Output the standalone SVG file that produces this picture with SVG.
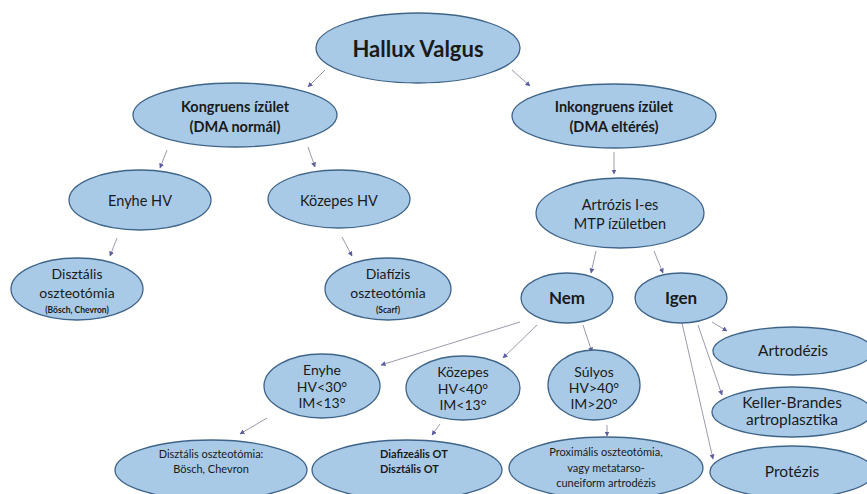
<svg xmlns="http://www.w3.org/2000/svg" width="867" height="494" viewBox="0 0 867 494">
<defs>
<marker id="ah" viewBox="0 0 10 10" refX="9" refY="5" markerWidth="5" markerHeight="5" orient="auto-start-reverse">
<path d="M0,0 L10,5 L0,10 z" fill="#5d5ea0"/>
</marker>
<style>
.n{fill:#a9cae6;stroke:#3f6489;stroke-width:1.3}
.t{font-family:Lato,"Open Sans","Liberation Sans",sans-serif;fill:#1a1a1a;text-anchor:middle}
.b{font-weight:bold}
.c line{stroke:#9a9aae;stroke-width:1;marker-end:url(#ah)}
</style>
</defs>
<rect width="867" height="494" fill="#ffffff"/>
<g class="c" id="connectors">
<line x1="325" y1="70" x2="308" y2="87"/>
<line x1="512" y1="70" x2="530" y2="86"/>
<line x1="167" y1="150" x2="160" y2="168"/>
<line x1="308" y1="147" x2="315" y2="167"/>
<line x1="614" y1="152" x2="614" y2="174"/>
<line x1="117" y1="238" x2="110" y2="256"/>
<line x1="342" y1="237" x2="352" y2="256"/>
<line x1="596" y1="251" x2="591" y2="273"/>
<line x1="654" y1="251" x2="663" y2="273"/>
<line x1="520" y1="322" x2="381" y2="365"/>
<line x1="537" y1="325" x2="503" y2="358"/>
<line x1="583" y1="325" x2="592" y2="352"/>
<line x1="712" y1="322" x2="727" y2="331"/>
<line x1="698" y1="325" x2="722" y2="395"/>
<line x1="682" y1="323" x2="713" y2="459"/>
<line x1="267" y1="418" x2="240" y2="434"/>
<line x1="440" y1="424" x2="432" y2="435"/>
<line x1="607" y1="425" x2="607" y2="436"/>
</g>
<g id="hallux"><ellipse class="n" cx="418" cy="48" rx="102" ry="35"/><text class="t b" x="418" y="57" font-size="22">Hallux Valgus</text></g>
<g id="kongruens"><ellipse class="n" cx="235" cy="115" rx="102" ry="32"/><text class="t b" x="235" y="112" font-size="14.5">Kongruens ízület</text><text class="t b" x="235" y="132" font-size="14.5">(DMA normál)</text></g>
<g id="inkongruens"><ellipse class="n" cx="614" cy="116" rx="102" ry="32"/><text class="t b" x="614" y="112" font-size="14.5">Inkongruens ízület</text><text class="t b" x="614" y="132" font-size="14.5">(DMA eltérés)</text></g>
<g id="enyhe-hv"><ellipse class="n" cx="140" cy="200" rx="71" ry="30"/><text class="t" x="140" y="206" font-size="14.5">Enyhe HV</text></g>
<g id="kozepes-hv"><ellipse class="n" cx="339" cy="199" rx="71" ry="29"/><text class="t" x="339" y="206" font-size="14.5">Közepes HV</text></g>
<g id="artrozis"><ellipse class="n" cx="620" cy="213" rx="84" ry="35"/><text class="t" x="620" y="210" font-size="14.5">Artrózis I-es</text><text class="t" x="620" y="229" font-size="14.5">MTP ízületben</text></g>
<g id="disztalis1"><ellipse class="n" cx="77" cy="289" rx="66" ry="31"/><text class="t" x="77" y="279" font-size="14">Disztális</text><text class="t" x="77" y="298" font-size="14">oszteotómia</text><text class="t b" x="77" y="313" font-size="8.5">(Bösch, Chevron)</text></g>
<g id="diafizis"><ellipse class="n" cx="388" cy="289" rx="63" ry="31"/><text class="t" x="388" y="279" font-size="14">Diafízis</text><text class="t" x="388" y="298" font-size="14">oszteotómia</text><text class="t b" x="388" y="313" font-size="8.5">(Scarf)</text></g>
<g id="nem"><ellipse class="n" cx="567" cy="298" rx="46" ry="25"/><text class="t b" x="567" y="304" font-size="17">Nem</text></g>
<g id="igen"><ellipse class="n" cx="681" cy="298" rx="46" ry="25"/><text class="t b" x="681" y="304" font-size="17">Igen</text></g>
<g id="artrodezis"><ellipse class="n" cx="793" cy="351" rx="80" ry="24"/><text class="t" x="793" y="356" font-size="15.5">Artrodézis</text></g>
<g id="keller"><ellipse class="n" cx="792" cy="412" rx="80" ry="25"/><text class="t" x="792" y="408" font-size="15.5">Keller-Brandes</text><text class="t" x="792" y="425" font-size="15.5">artroplasztika</text></g>
<g id="protezis"><ellipse class="n" cx="792" cy="472" rx="82" ry="26"/><text class="t" x="792" y="477" font-size="15.5">Protézis</text></g>
<g id="enyhe"><ellipse class="n" cx="322" cy="386" rx="58" ry="32"/><text class="t" x="322" y="375" font-size="14">Enyhe</text><text class="t" x="322" y="392" font-size="14">HV&lt;30°</text><text class="t" x="322" y="408" font-size="14">IM&lt;13°</text></g>
<g id="kozepes"><ellipse class="n" cx="463" cy="388" rx="57" ry="32"/><text class="t" x="463" y="377" font-size="14">Közepes</text><text class="t" x="463" y="394" font-size="14">HV&lt;40°</text><text class="t" x="463" y="410" font-size="14">IM&lt;13°</text></g>
<g id="sulyos"><ellipse class="n" cx="594" cy="385" rx="46" ry="35"/><text class="t" x="594" y="377" font-size="14">Súlyos</text><text class="t" x="594" y="393" font-size="14">HV&gt;40°</text><text class="t" x="594" y="409" font-size="14">IM&gt;20°</text></g>
<g id="disztalis2"><ellipse class="n" cx="211" cy="470" rx="96" ry="30"/><text class="t" x="211" y="458" font-size="11">Disztális oszteotómia:</text><text class="t" x="211" y="473" font-size="11">Bösch, Chevron</text></g>
<g id="diafizealis"><ellipse class="n" cx="407" cy="470" rx="95" ry="30"/><text class="t b" x="380" y="458" font-size="11" style="text-anchor:start">Diafizeális OT</text><text class="t b" x="380" y="473" font-size="11" style="text-anchor:start">Disztális OT</text></g>
<g id="proximalis"><ellipse class="n" cx="606" cy="468" rx="97" ry="31"/><text class="t" x="606" y="456" font-size="11">Proximális oszteotómia,</text><text class="t" x="606" y="472" font-size="11">vagy metatarso-</text><text class="t" x="606" y="487" font-size="11">cuneiform artrodézis</text></g>
</svg>
